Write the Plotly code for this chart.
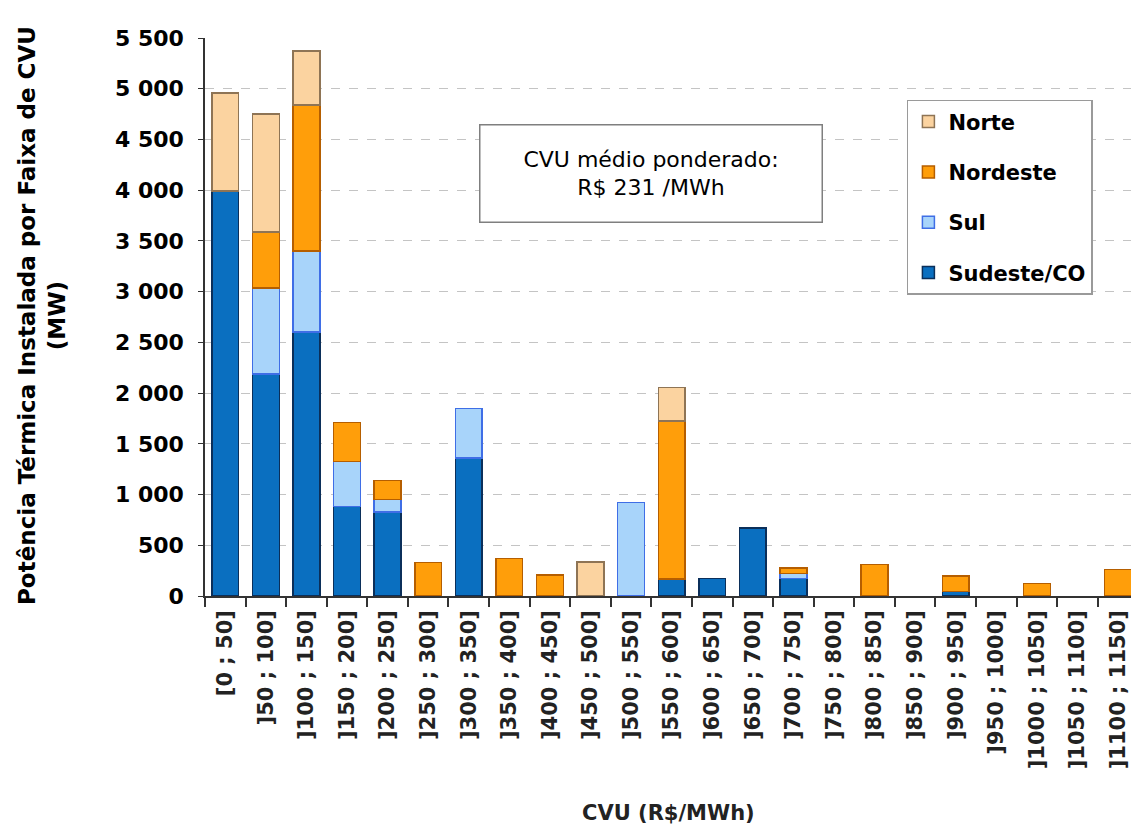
import plotly.graph_objects as go

categories = ["[0 ; 50]", "]50 ; 100]", "]100 ; 150]", "]150 ; 200]", "]200 ; 250]",
              "]250 ; 300]", "]300 ; 350]", "]350 ; 400]", "]400 ; 450]", "]450 ; 500]",
              "]500 ; 550]", "]550 ; 600]", "]600 ; 650]", "]650 ; 700]", "]700 ; 750]",
              "]750 ; 800]", "]800 ; 850]", "]850 ; 900]", "]900 ; 950]", "]950 ; 1000]",
              "]1000 ; 1050]", "]1050 ; 1100]", "]1100 ; 1150]"]

sudeste = [3990, 2190, 2600, 880, 830, None, 1360, None, None, None, None, 170,
           175, 670, 175, None, None, None, 45, None, None, None, None]
sul = [None, 845, 800, 445, 120, None, 490, None, None, None, 920, None,
       None, None, 45, None, None, None, None, None, None, None, None]
nordeste = [None, 555, 1440, 385, 190, 330, None, 370, 205, None, None, 1555,
            None, None, 55, None, 310, None, 150, None, 125, None, 260]
norte = [970, 1160, 530, None, None, None, None, None, None, 335, None, 330,
         None, None, None, None, None, None, None, None, None, None, None]

series = [
    ("Sudeste/CO", sudeste, "#0A6FC0", "#0B2F5A", 4),
    ("Sul", sul, "#A8D4FA", "#3F6EE6", 3),
    ("Nordeste", nordeste, "#FF9E0A", "#B55E00", 2),
    ("Norte", norte, "#FBD3A0", "#8E7455", 1),
]

FONT_B = "DejaVu Sans"

fig = go.Figure()
for name, vals, fill, edge, rank in series:
    fig.add_trace(go.Bar(
        x=categories, y=vals, name=name, legendgroup=name, legendrank=rank,
        marker=dict(color=fill, line=dict(color=edge, width=1.5)),
        width=0.66,
    ))

fig.update_layout(
    barmode="stack",
    width=1131, height=830,
    margin=dict(l=205, r=0, t=38, b=234, autoexpand=False),
    paper_bgcolor="white", plot_bgcolor="white",
    separators=", ",
    showlegend=True,
    legend=dict(
        x=0.758, xanchor="left", y=0.889, yanchor="top",
        xref="paper", yref="paper",
        traceorder="grouped", tracegroupgap=20,
        bordercolor="#9A9A9A", borderwidth=1.5, bgcolor="white",
        font=dict(family=FONT_B, size=21, color="black", weight="bold"),
        itemwidth=30,
    ),
    xaxis=dict(
        type="category",
        range=[-0.5, 22.32],
        tickangle=-90,
        tickson="boundaries",
        ticks="outside", ticklen=9, tickcolor="#333", tickwidth=1.5,
        showline=True, linecolor="#333", linewidth=1.5,
        showgrid=False,
        tickfont=dict(family=FONT_B, size=21, color="#222", weight="bold"),
        ticklabelstandoff=4,
    ),
    yaxis=dict(
        range=[0, 5500],
        tickvals=[0, 500, 1000, 1500, 2000, 2500, 3000, 3500, 4000, 4500, 5000, 5500],
        tickformat=",d",
        ticks="outside", ticklen=5, tickcolor="#333",
        showline=True, linecolor="#333", linewidth=1.5,
        showgrid=True, gridcolor="#C4C4C4", griddash="dash", gridwidth=1,
        zeroline=False,
        tickfont=dict(family=FONT_B, size=22, color="black", weight="bold"),
        ticklabelstandoff=10,
    ),
    annotations=[
        dict(
            text="CVU médio ponderado:<br>R$ 231 /MWh",
            xref="paper", yref="paper", x=0.4816, y=0.758,
            xanchor="center", yanchor="middle", showarrow=False,
            font=dict(family="DejaVu Sans", size=22, color="black"),
            bordercolor="#7F7F7F", borderwidth=1.5, borderpad=4,
            bgcolor="white", width=333, height=88,
        ),
        dict(
            text="Potência Térmica Instalada por Faixa de CVU<br>(MW)",
            xref="paper", yref="paper", x=(42 - 205) / 926, y=(596 - 316) / 558,
            xanchor="center", yanchor="middle", showarrow=False, textangle=-90,
            font=dict(family=FONT_B, size=23, color="black", weight="bold"),
        ),
        dict(
            text="CVU (R$/MWh)",
            xref="paper", yref="paper", x=(668 - 205) / 926, y=-(813 - 596) / 558,
            xanchor="center", yanchor="middle", showarrow=False,
            font=dict(family=FONT_B, size=21, color="#222", weight="bold"),
        ),
    ],
)

fig.write_html(
    "out.html",
    config={"displayModeBar": False},
    post_script="document.body.style.margin='0';document.body.style.overflow='hidden';",
)
